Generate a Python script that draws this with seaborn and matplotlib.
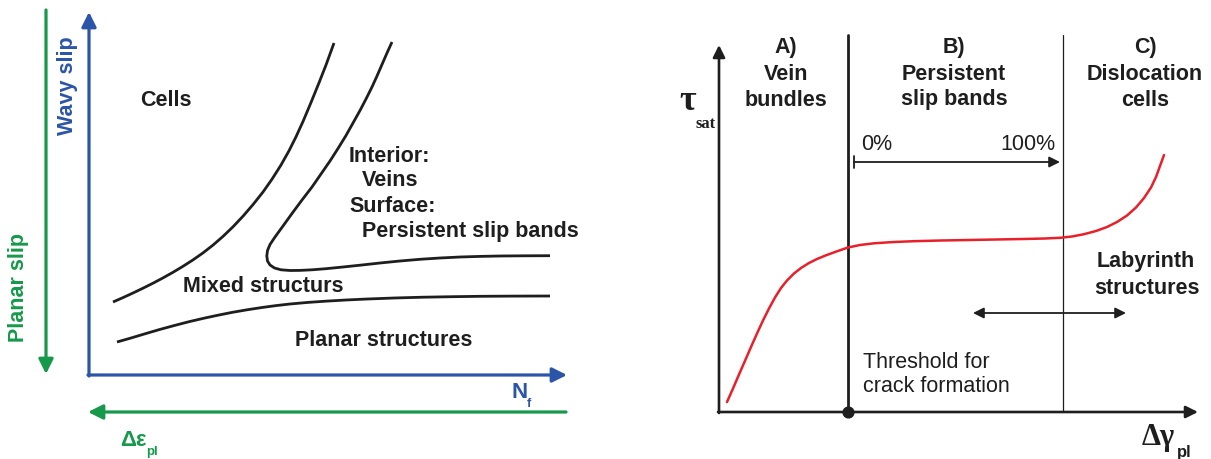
import matplotlib
matplotlib.use("Agg")
import matplotlib.pyplot as plt
import seaborn as sns

sns.set_theme(style="white")
plt.rcParams["font.family"] = ["Liberation Sans", "DejaVu Sans"]

BLUE = "#2B55A8"
GREEN = "#16994A"
RED = "#E8202A"
INK = "#1E1E1E"

# ---- left diagram: dislocation structure map (canvas pixel units) ----
cells_border_x = [113, 123, 133, 143, 153, 163, 173, 183, 193, 203, 213, 223, 233, 243, 253,
                  263, 272, 281, 289, 296, 303, 311, 319, 326, 334]
cells_border_y = [302.0, 297.6, 293.0, 288.2, 283.2, 277.9, 272.3, 266.3, 259.9, 252.9, 245.1,
                  236.4, 226.8, 216.2, 204.6, 192.0, 179.2, 165.0, 150.8, 136.8, 121.5, 102.5,
                  82.8, 65.0, 43.0]

psb_border_x = [392, 387, 382, 377, 372, 366, 360, 353, 346, 338, 330, 321, 312, 302, 292, 283,
                275, 270, 267.5, 266.8, 267.5, 270, 274.5, 281, 290, 300, 312, 326, 342, 360,
                380, 400, 420, 440, 460, 480, 500, 525, 550]
psb_border_y = [42.0, 53.0, 64.5, 76.0, 87.0, 99.0, 110.5, 123.0, 135.5, 148.5, 161.0, 174.0,
                187.0, 200.0, 213.5, 226.0, 237.0, 244.5, 250.5, 256.0, 261.0, 265.0, 268.0,
                269.8, 270.5, 270.4, 269.8, 268.7, 267.1, 265.2, 263.0, 261.0, 259.3, 258.0,
                257.0, 256.4, 256.0, 255.8, 255.7]

planar_border_x = [117, 131, 146, 160, 174, 189, 204, 218, 232, 247, 262, 276, 290, 308, 327,
                   346, 365, 394, 423, 452, 481, 515, 550]
planar_border_y = [342.0, 338.0, 333.5, 329.4, 325.6, 321.7, 318.2, 315.2, 312.4, 309.8, 307.5,
                   305.6, 304.0, 302.4, 301.1, 300.0, 299.1, 298.0, 297.2, 296.7, 296.3, 296.1,
                   296.0]

# ---- right diagram: saturation stress vs plastic shear amplitude ----
tau_x = [727, 733, 739, 745, 751, 757, 763, 769, 775, 781, 787, 794, 801, 809, 817, 826, 837,
         848, 860, 874, 894, 914, 941, 969, 996, 1023, 1045, 1060, 1072, 1084, 1096, 1107,
         1117, 1127, 1136, 1144, 1151, 1156, 1160, 1164]
tau_y = [402.0, 388.5, 374.5, 360.8, 347.0, 333.5, 320.5, 308.5, 297.5, 288.0, 280.5, 273.5,
         268.0, 263.0, 259.0, 255.3, 251.3, 247.5, 245.0, 243.3, 242.0, 241.2, 240.5, 240.0,
         239.5, 239.0, 238.5, 237.8, 236.5, 234.2, 231.0, 227.0, 222.0, 215.5, 207.5, 198.0,
         187.5, 177.0, 166.0, 155.0]

region_letters = ["A)", "B)", "C)"]
region_names = [["Vein", "bundles"], ["Persistent", "slip bands"], ["Dislocation", "cells"]]
region_centres = [786, 954, 1145]
threshold_x = 848
cells_onset_x = 1063

fig = plt.figure(figsize=(12.11, 4.59), dpi=100)
ax = fig.add_axes([0, 0, 1, 1])
ax.set_xlim(0, 1211)
ax.set_ylim(459, 0)
ax.axis("off")


def arrow(x0, y0, x1, y1, color, lw, style="-|>", ms=22):
    ax.annotate("", xy=(x1, y1), xytext=(x0, y0),
                arrowprops=dict(arrowstyle=style, color=color, lw=lw,
                                shrinkA=0, shrinkB=0, mutation_scale=ms))


# left diagram axes
arrow(89, 376, 89, 12, BLUE, 2.3)
arrow(88, 375, 567, 375, BLUE, 2.3)
arrow(46, 10, 46, 374, GREEN, 2.3)
arrow(566, 412, 88, 412, GREEN, 2.3)

for xs, ys in [(cells_border_x, cells_border_y), (psb_border_x, psb_border_y),
               (planar_border_x, planar_border_y)]:
    sns.lineplot(x=xs, y=ys, sort=False, estimator=None, color=INK, lw=2.0, ax=ax,
                 solid_joinstyle="round", solid_capstyle="butt")

fs = 15.5
bold = dict(fontsize=fs, fontweight="bold", color=INK, va="center")
ax.text(140, 101, "Cells", ha="left", **bold)
ax.text(349, 157, "Interior:", ha="left", **bold)
ax.text(362, 181, "Veins", ha="left", **bold)
ax.text(349, 207, "Surface:", ha="left", **bold)
ax.text(362, 232, "Persistent slip bands", ha="left", **bold)
ax.text(183, 287, "Mixed structurs", ha="left", **bold)
ax.text(295, 341, "Planar structures", ha="left", **bold)

ax.text(68, 86, "Wavy slip", rotation=90, ha="center", va="center",
        fontsize=fs, fontweight="bold", color=BLUE)
ax.text(19, 287, "Planar slip", rotation=90, ha="center", va="center",
        fontsize=fs, fontweight="bold", color=GREEN)
ax.text(520, 393, "N", ha="center", va="center", fontsize=16, fontweight="bold", color=BLUE)
ax.text(529, 404, "f", ha="center", va="center", fontsize=9, fontweight="bold", color=BLUE)
ax.text(133, 440, "Δε", ha="center", va="center", fontsize=16, fontweight="bold", color=GREEN)
ax.text(152, 452, "pl", ha="center", va="center", fontsize=9.5, fontweight="bold", color=GREEN)

# right diagram axes
arrow(719, 413, 719, 45, INK, 1.9, ms=18)
arrow(718, 412, 1198, 412, INK, 1.9, ms=18)
ax.plot([threshold_x, threshold_x], [35, 412], color=INK, lw=2.0)
ax.plot([cells_onset_x, cells_onset_x], [35, 412], color=INK, lw=0.9)
ax.scatter([threshold_x], [412], s=60, color=INK, zorder=5)

sns.lineplot(x=tau_x, y=tau_y, sort=False, estimator=None, color=RED, lw=1.8, ax=ax,
             solid_joinstyle="round")

for letter, (l1, l2), cx in zip(region_letters, region_names, region_centres):
    ax.text(cx, 48, letter, ha="center", **bold)
    ax.text(cx, 75, l1, ha="center", **bold)
    ax.text(cx, 100, l2, ha="center", **bold)

norm = dict(fontsize=fs, color=INK, va="center")
ax.text(861, 144, "0%", ha="left", **norm)
ax.text(1056, 144, "100%", ha="right", **norm)
arrow(854, 162, 1060, 162, INK, 1.3, ms=16)
ax.plot([854, 854], [156, 168], color=INK, lw=1.3)

ax.text(1146, 262, "Labyrinth", ha="center", **bold)
ax.text(1147, 288, "structures", ha="center", **bold)
arrow(973, 313, 1126, 313, INK, 1.3, style="<|-|>", ms=16)

ax.text(863, 363, "Threshold for", ha="left", **norm)
ax.text(863, 387, "crack formation", ha="left", **norm)

serif = ["Liberation Serif", "DejaVu Serif"]
ax.text(688, 102, "τ", ha="center", va="center", fontsize=26, fontweight="bold",
        color=INK, family=serif)
ax.text(706, 124, "sat", ha="center", va="center", fontsize=12, fontweight="bold",
        color=INK, family=serif)
ax.text(1158, 437, "Δγ", ha="center", va="center", fontsize=22, fontweight="bold",
        color=INK, family=serif)
ax.text(1184, 452, "pl", ha="center", va="center", fontsize=12, fontweight="bold", color=INK)

fig.savefig("out.png", dpi=100)
